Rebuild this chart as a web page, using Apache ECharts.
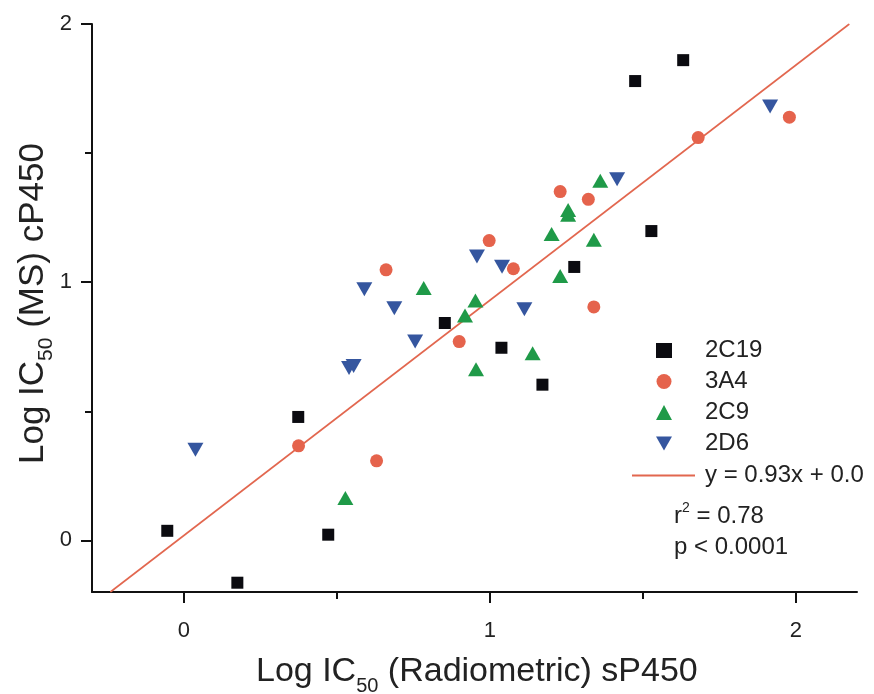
<!DOCTYPE html>
<html>
<head>
<meta charset="utf-8">
<script src="https://cdn.jsdelivr.net/npm/echarts@6/dist/echarts.min.js"></script>
<style>
html,body{margin:0;padding:0;background:#fff;}
#chart{width:874px;height:694px;}
</style>
</head>
<body>
<div id="chart"></div>
<script>
// ---- data ----
const seriesNames = ['2C19', '3A4', '2C9', '2D6'];
const fitName = 'y = 0.93x + 0.0';

const c19X = [-0.054, 0.175, 0.374, 0.472, 0.853, 1.038, 1.172, 1.276, 1.475, 1.632, 1.528];
const c19Y = [0.037, -0.164, 0.478, 0.022, 0.842, 0.746, 0.603, 1.059, 1.779, 1.860, 1.198];

const a4X = [0.375, 0.630, 0.900, 0.661, 0.998, 1.077, 1.230, 1.322, 1.340, 1.681, 1.979];
const a4Y = [0.366, 0.308, 0.770, 1.048, 1.161, 1.052, 1.351, 1.321, 0.904, 1.560, 1.639];

const c9X = [0.528, 0.784, 0.919, 0.953, 0.955, 1.140, 1.230, 1.202, 1.256, 1.256, 1.340, 1.361];
const c9Y = [0.164, 0.977, 0.871, 0.929, 0.663, 0.725, 1.024, 1.187, 1.280, 1.261, 1.164, 1.393];

const d6X = [0.038, 0.540, 0.555, 0.590, 0.688, 0.756, 0.958, 1.040, 1.113, 1.416, 1.916];
const d6Y = [0.351, 0.668, 0.675, 0.973, 0.899, 0.770, 1.099, 1.060, 0.895, 1.399, 1.680];

const fitX = [-0.24, 2.175];
const fitY = [-0.20, 2.0];

const xMajorTicks = [0, 1, 2];
const xMinorTicks = [0.5, 1.5];
const yMajorTicks = [0, 1, 2];
const yMinorTicks = [0.5, 1.5];

// ---- build ----
const zip = (xs, ys) => xs.map((x, i) => [x, ys[i]]);
const FONT = '"Liberation Sans", Arial, Helvetica, sans-serif';
const TXT = '#222';
const FIT_COLOR = '#e2674f';
const DOWN_TRI = 'path://M0,0 L16,0 L8,14 Z';

const chart = echarts.init(document.getElementById('chart'), null, {renderer: 'canvas'});

const axisBase = {
  type: 'value',
  splitLine: {show: false},
  axisLine: {show: true, onZero: false, lineStyle: {color: '#111', width: 2}},
  axisTick: {show: true, inside: false, length: 11, lineStyle: {color: '#111', width: 2}},
  axisLabel: {show: true, color: TXT, fontSize: 22, fontFamily: FONT}
};

const option = {
  animation: false,
  backgroundColor: '#fff',
  grid: {left: 92, right: 17, top: 24, bottom: 102, containLabel: false},
  xAxis: [
    Object.assign({}, axisBase, {
      min: -0.3, max: 2.2,
      axisTick: Object.assign({}, axisBase.axisTick, {customValues: xMajorTicks}),
      axisLabel: Object.assign({}, axisBase.axisLabel, {customValues: xMajorTicks, margin: 28})
    }),
    {
      type: 'value', min: -0.3, max: 2.2, position: 'bottom',
      splitLine: {show: false},
      axisLine: {show: false, onZero: false},
      axisLabel: {show: false},
      axisTick: {show: true, length: 7, customValues: xMinorTicks, lineStyle: {color: '#111', width: 2}}
    }
  ],
  yAxis: [
    Object.assign({}, axisBase, {
      min: -0.2, max: 2.0,
      axisTick: Object.assign({}, axisBase.axisTick, {customValues: yMajorTicks}),
      axisLabel: Object.assign({}, axisBase.axisLabel, {customValues: yMajorTicks, margin: 20})
    }),
    {
      type: 'value', min: -0.2, max: 2.0, position: 'left',
      splitLine: {show: false},
      axisLine: {show: false, onZero: false},
      axisLabel: {show: false},
      axisTick: {show: true, length: 7, customValues: yMinorTicks, lineStyle: {color: '#111', width: 2}}
    }
  ],
  legend: [
    {
      orient: 'vertical',
      left: 656, top: 335, padding: 0,
      itemWidth: 16, itemHeight: 15, itemGap: 0,
      data: [
        {name: seriesNames[0]},
        {name: seriesNames[1]},
        {name: seriesNames[2]},
        {name: seriesNames[3], icon: DOWN_TRI}
      ],
      textStyle: {color: TXT, fontSize: 24, fontFamily: FONT, lineHeight: 31, padding: [0, 0, 0, 28]},
      selectedMode: false
    },
    {
      orient: 'vertical',
      left: 632, top: 460, padding: 0,
      itemWidth: 63, itemHeight: 2, itemGap: 0,
      data: [{name: fitName, icon: 'rect'}],
      textStyle: {color: TXT, fontSize: 24, fontFamily: FONT, lineHeight: 31, padding: [0, 0, 0, 5]},
      selectedMode: false
    }
  ],
  graphic: [
    {
      type: 'text', left: 256, top: 648,
      style: {
        text: 'Log IC{sub|50} (Radiometric) sP450',
        font: '34px ' + FONT, fill: TXT,
        rich: {sub: {fontSize: 20, fontFamily: FONT, fill: TXT, verticalAlign: 'bottom', lineHeight: 20}},
        lineHeight: 48
      }
    },
    {
      type: 'text', x: 9, y: 464, rotation: Math.PI / 2,
      style: {
        text: 'Log IC{sub|50} (MS) cP450',
        font: '35px ' + FONT, fill: TXT,
        rich: {sub: {fontSize: 21, fontFamily: FONT, fill: TXT, verticalAlign: 'bottom', lineHeight: 21}},
        lineHeight: 48
      }
    },
    {
      type: 'text', left: 674, top: 501,
      style: {
        text: 'r{sup|2} = 0.78',
        font: '24px ' + FONT, fill: TXT,
        rich: {sup: {fontSize: 14, fontFamily: FONT, fill: TXT, verticalAlign: 'top', lineHeight: 14}},
        lineHeight: 30
      }
    },
    {
      type: 'text', left: 674, top: 535,
      style: {text: 'p < 0.0001', font: '24px ' + FONT, fill: TXT}
    }
  ],
  series: [
    {
      name: fitName, type: 'line', data: zip(fitX, fitY),
      symbol: 'none', z: 1,
      lineStyle: {color: FIT_COLOR, width: 1.6},
      itemStyle: {color: FIT_COLOR}
    },
    {
      name: seriesNames[0], type: 'scatter', data: zip(c19X, c19Y), z: 3,
      symbol: 'rect', symbolSize: 12,
      itemStyle: {color: '#0b0b10', opacity: 1}
    },
    {
      name: seriesNames[1], type: 'scatter', data: zip(a4X, a4Y), z: 3,
      symbol: 'circle', symbolSize: 13,
      itemStyle: {color: '#e5634c', opacity: 1}
    },
    {
      name: seriesNames[2], type: 'scatter', data: zip(c9X, c9Y), z: 3,
      symbol: 'triangle', symbolSize: [16, 14],
      itemStyle: {color: '#1f9a48', opacity: 1}
    },
    {
      name: seriesNames[3], type: 'scatter', data: zip(d6X, d6Y), z: 3,
      symbol: 'triangle', symbolSize: [16, 14], symbolRotate: 180,
      itemStyle: {color: '#35569f', opacity: 1}
    }
  ]
};

chart.setOption(option);
</script>
</body>
</html>
